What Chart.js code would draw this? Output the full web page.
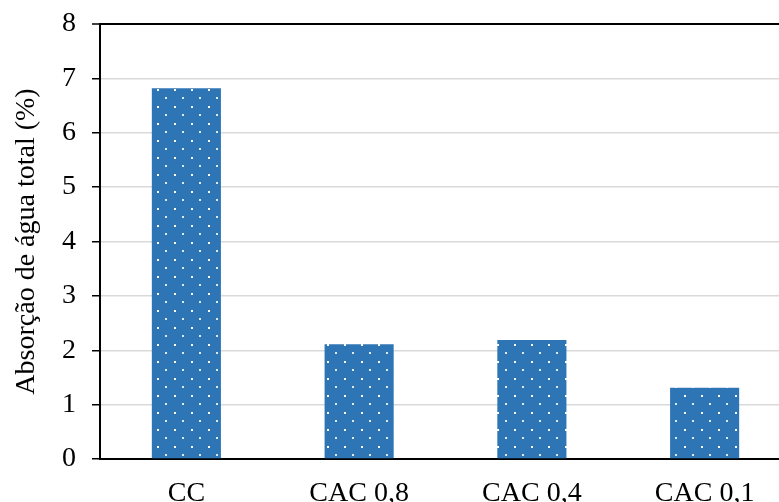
<!doctype html><html lang="pt">
<head>
<meta charset="utf-8">
<title>Absorção de água total</title>
<script src="https://cdn.jsdelivr.net/npm/chart.js@4"></script>
<style>
html,body{margin:0;padding:0;background:#fff;overflow:hidden}
canvas{display:block}
</style>
</head>
<body>
<canvas id="c" width="795" height="502"></canvas>
<script>
// dados
const categorias=['CC','CAC 0,8','CAC 0,4','CAC 0,1'];
const absorcao=[6.82,2.11,2.19,1.31];
const yMin=0,yMax=8;

const fonte='"Liberation Serif","Times New Roman",serif';

// padrão de pontos brancos sobre azul
function padrao(){const t=document.createElement('canvas');t.width=17;t.height=17;const g=t.getContext('2d');
g.fillStyle='#2E75B6';g.fillRect(0,0,17,17);
g.fillStyle='#fff';g.fillRect(4,4,2,2);
g.fillStyle='rgba(255,255,255,.85)';g.fillRect(12,12,2,2);
return g.createPattern(t,'repeat')}

new Chart(document.getElementById('c'),{type:'bar',
data:{labels:categorias,datasets:[{data:absorcao,backgroundColor:padrao(),borderWidth:0,categoryPercentage:1,barPercentage:0.4}]},
options:{responsive:false,animation:false,
layout:{padding:{left:0,right:4,top:24,bottom:0}},
plugins:{legend:{display:false},tooltip:{enabled:false}},
scales:{
x:{grid:{display:false,drawTicks:false},border:{color:'#000',width:2},
ticks:{color:'#000',font:{family:fonte,size:28},padding:18,maxRotation:0},
afterFit:s=>{s.height=43}},
y:{min:yMin,max:yMax,
ticks:{stepSize:0.5,color:'#000',font:{family:fonte,size:28},padding:16,callback:v=>Number.isInteger(v)?v:''},
grid:{tickLength:8,tickColor:'#000',tickWidth:1.5,
color:c=>c.tick.value===yMax?'#000':(Number.isInteger(c.tick.value)?'#d9d9d9':'rgba(0,0,0,0)'),
lineWidth:c=>c.tick.value===yMax?2:1.5},
border:{color:'#000',width:2},
title:{display:true,text:'Absorção de água total (%)',color:'#000',font:{family:fonte,size:28},padding:{top:10,bottom:0}},
afterFit:s=>{s.width=100;s.paddingTop=0;s.paddingBottom=0}}
}}});
</script>
</body></html>
